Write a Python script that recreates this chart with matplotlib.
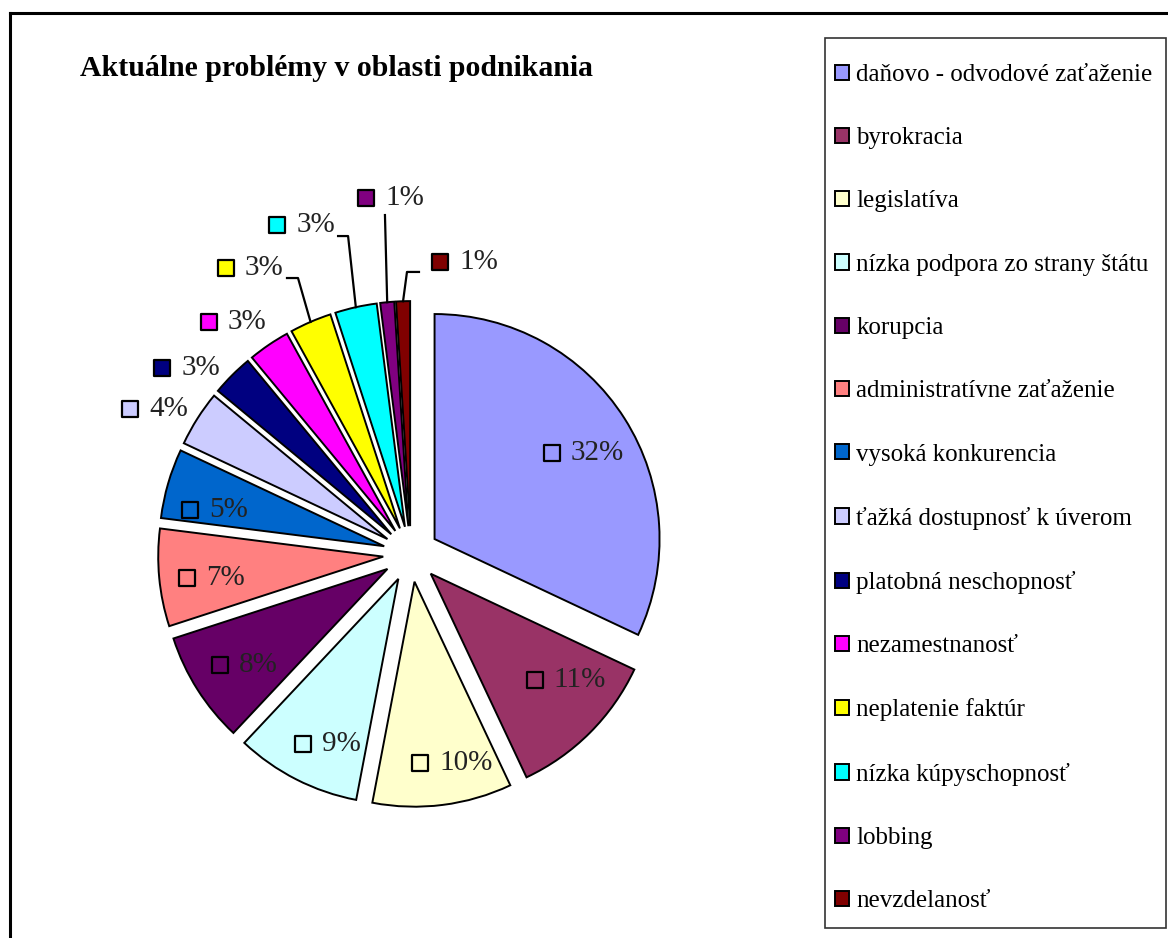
import numpy as np
import matplotlib
matplotlib.use("Agg")
import matplotlib.pyplot as plt
from matplotlib.lines import Line2D

# ---- data ----
title = "Aktuálne problémy v oblasti podnikania"
categories = [
    "daňovo - odvodové zaťaženie",
    "byrokracia",
    "legislatíva",
    "nízka podpora zo strany štátu",
    "korupcia",
    "administratívne zaťaženie",
    "vysoká konkurencia",
    "ťažká dostupnosť k úverom",
    "platobná neschopnosť",
    "nezamestnanosť",
    "neplatenie faktúr",
    "nízka kúpyschopnosť",
    "lobbing",
    "nevzdelanosť",
]
shares = [32, 11, 10, 9, 8, 7, 5, 4, 3, 3, 3, 3, 1, 1]
colors = ["#9999FF", "#993366", "#FFFFCC", "#CCFFFF", "#660066", "#FF8080",
          "#0066CC", "#CCCCFF", "#000080", "#FF00FF", "#FFFF00", "#00FFFF",
          "#800080", "#800000"]

# ---- layout (pixels of a 1168x938 canvas) ----
W, H = 1168, 938
R_PX = 225.0            # pie radius in px
CX, CY = 411, 554       # pie centre in px
SERIF = "Liberation Serif"

# data-label group centres, in pie radii relative to the pie centre
label_xy = [(0.769, 0.449), (0.693, -0.560), (0.182, -0.929), (-0.338, -0.844),
            (-0.707, -0.493), (-0.853, -0.107), (-0.840, 0.196),
            (-1.107, 0.644), (-0.964, 0.827), (-0.756, 1.031),
            (-0.680, 1.271), (-0.453, 1.462), (-0.058, 1.582), (0.271, 1.298)]
# leader lines: slice index -> (end dx px, end dy px from group centre, elbow dx px)
leaders = {10: (29, 10, 11), 11: (29, 11, 10), 12: (-13, 17, 0), 13: (-53, 10, -12)}


def px(v):
    return v / R_PX


fig = plt.figure(figsize=(W / 100, H / 100), dpi=100)
half = 1.3
ax = fig.add_axes([(CX - half * R_PX) / W, (H - CY - half * R_PX) / H,
                   2 * half * R_PX / W, 2 * half * R_PX / H])

wedges, _ = ax.pie(shares, colors=colors, explode=[0.124] * len(shares),
                   startangle=90, counterclock=False, radius=1,
                   wedgeprops=dict(edgecolor="black", linewidth=1.4))
# pie() resets the limits, so set them afterwards
ax.set_xlim(-half, half)
ax.set_ylim(-half, half)
ax.axis("off")

for i, (w, v) in enumerate(zip(wedges, shares)):
    mid = np.deg2rad((w.theta1 + w.theta2) / 2)
    cx, cy = w.center
    gx, gy = label_xy[i]
    ax.scatter([gx - px(32)], [gy], s=125, marker="s", color=w.get_facecolor(),
               edgecolor="black", linewidth=1.6, zorder=5, clip_on=False)
    ax.text(gx - px(13), gy, f"{v}%", fontsize=21, family=SERIF, color="#222222",
            ha="left", va="center", zorder=5, clip_on=False)
    if i in leaders:
        ex, ey, kx = leaders[i]
        sx, sy = cx + np.cos(mid), cy + np.sin(mid)
        endx, endy = gx + px(ex), gy - px(ey)
        ax.add_line(Line2D([sx, endx + px(kx), endx], [sy, endy, endy],
                           color="black", linewidth=1.6, clip_on=False))

# legend
fig.legend(wedges, categories, loc="upper left",
           bbox_to_anchor=(835 / W, 1 - 64 / H), frameon=False,
           prop=dict(family=SERIF, size=18), handlelength=0.56,
           handleheight=0.56, handletextpad=0.3, labelspacing=1.65,
           borderaxespad=0, borderpad=0)
fig.patches.append(plt.Rectangle((825 / W, 1 - 928 / H), (1166 - 825) / W,
                                 (928 - 38) / H, transform=fig.transFigure,
                                 fill=False, edgecolor="#333333", linewidth=1.2))

# outer chart border (cropped at right and bottom)
fig.add_artist(Line2D([10 / W, 1], [1 - 13 / H, 1 - 13 / H], color="black", linewidth=2.2))
fig.add_artist(Line2D([10 / W, 10 / W], [0, 1 - 13 / H], color="black", linewidth=2.2))

fig.text(80 / W, 1 - 68 / H, title, fontsize=21.4, fontweight="bold",
         family=SERIF, ha="left", va="center")

fig.savefig("out.png", dpi=100)
